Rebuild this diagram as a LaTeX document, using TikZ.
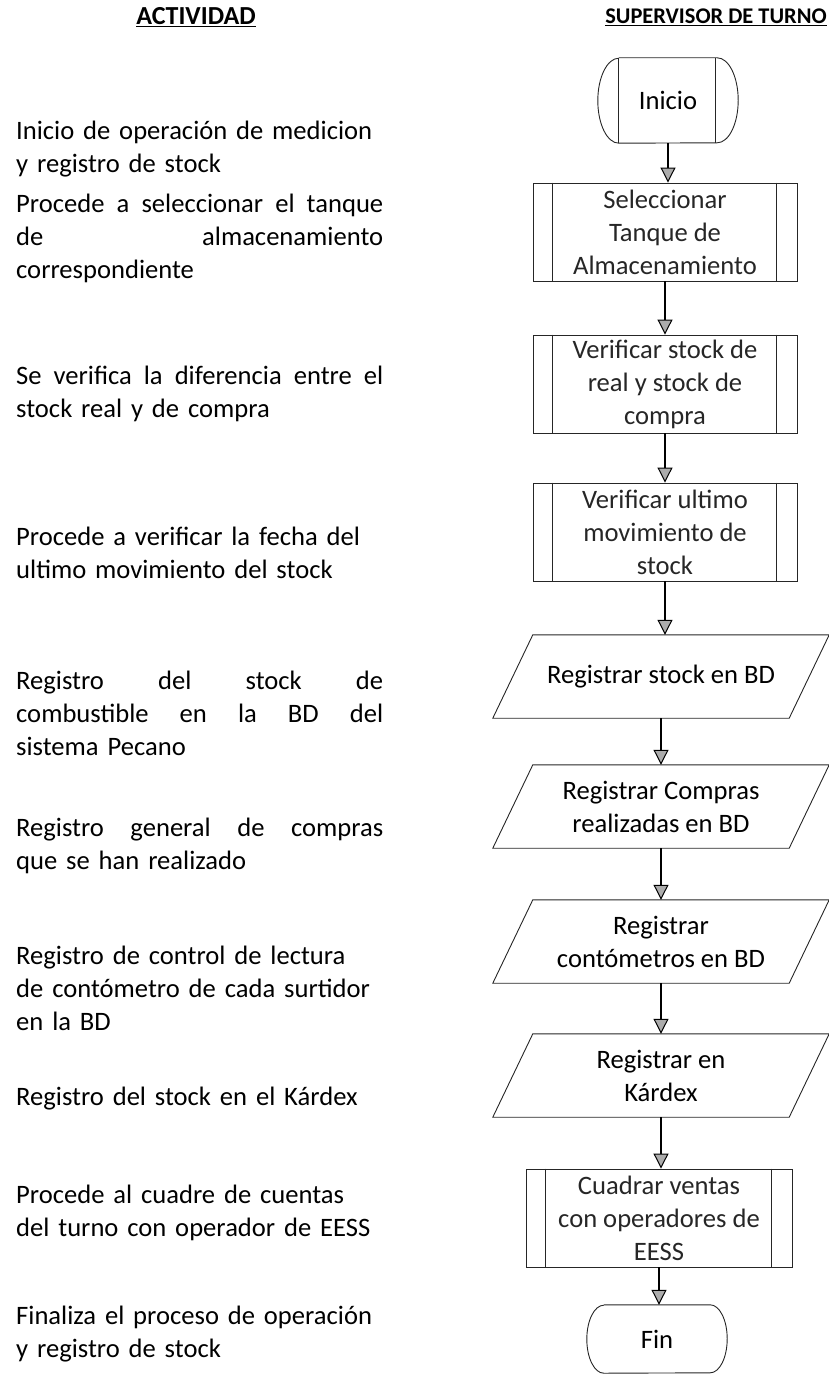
\documentclass[tikz,border=0pt]{standalone}
\usepackage{fontspec}
\setmainfont{Carlito}
\usepackage{tikz}
\usetikzlibrary{arrows.meta}
\newcommand{\letra}{\fontsize{26.6pt}{33pt}\selectfont}
\newcommand{\just}[1]{\leavevmode\hbox to 367pt{\spaceskip=0.23em plus 1fil\relax#1}}

\begin{document}
\begin{tikzpicture}[x=1pt,y=-1pt,
  texto/.style={anchor=west,inner sep=0pt,text width=367pt,align=left,font=\letra},
  titulo/.style={inner sep=0pt,font=\bfseries},
  borde/.style={line width=0.9pt,black!85},
  proceso/.style={draw,borde,minimum width=264pt,minimum height=98pt,inner sep=0pt,align=center,font=\letra},
  datos/.style={minimum width=296pt,minimum height=83pt,inner sep=0pt,align=center,font=\letra},
  terminal/.style={minimum width=140pt,inner sep=0pt,font=\letra},
  flecha/.style={line width=2pt,-{Triangle[width=15pt,length=15pt,line width=1pt,fill=gray!65]}}]
  \useasboundingbox (0,0) rectangle (829,1375); % 画像全体の大きさ
  \node[titulo,font=\fontsize{26pt}{30pt}\selectfont\bfseries] (hact) at (196,17) {\underline{ACTIVIDAD}}; % 左列の見出し
  \node[titulo,font=\fontsize{22.4pt}{28pt}\selectfont\bfseries] (hsup) at (716,17) {\underline{SUPERVISOR DE TURNO}}; % 右列の見出し
  % 左列：各活動の説明
  \node[texto] (t1) at (16,149.5) {Inicio de operación de medicion\\y registro de stock};
  \node[texto] (t2) at (16,238) {\just{Procede a seleccionar el tanque}\\\just{de almacenamiento}\\correspondiente};
  \node[texto] (t3) at (16,394) {\just{Se verifica la diferencia entre el}\\stock real y de compra};
  \node[texto] (t4) at (16,553) {Procede a verificar la fecha del\\ultimo movimiento del stock};
  \node[texto] (t5) at (16,713) {\just{Registro del stock de}\\\just{combustible en la BD del}\\sistema Pecano};
  \node[texto] (t6) at (16,845.5) {\just{Registro general de compras}\\que se han realizado};
  \node[texto] (t7) at (16,988) {Registro de control de lectura\\de contómetro de cada surtidor\\en la BD};
  \node[texto] (t8) at (16,1099) {Registro del stock en el Kárdex};
  \node[texto] (t9) at (16,1212.5) {Procede al cuadre de cuentas\\del turno con operador de EESS};
  \node[texto] (t10) at (16,1334.5) {Finaliza el proceso de operación\\y registro de stock};
  % 右列：流れ図
  \node[terminal,minimum height=85pt] (inicio) at (668,100.5) {Inicio}; % 開始端子
  \draw[borde] ([xshift=21pt]inicio.north west) -- ([xshift=-21pt]inicio.north east) arc[start angle=90,end angle=-90,x radius=21pt,y radius=42.5pt] -- ([xshift=21pt]inicio.south west) arc[start angle=270,end angle=90,x radius=21pt,y radius=42.5pt]; % 開始端子の外形
  \draw[borde] ([xshift=21pt]inicio.north west) -- ([xshift=21pt]inicio.south west); % 開始端子の左の縦線
  \draw[borde] ([xshift=-23pt]inicio.north east) -- ([xshift=-23pt]inicio.south east); % 開始端子の右の縦線
  \node[proceso] (sel) at (665,232) {Seleccionar\\Tanque de\\Almacenamiento};
  \node[proceso] (verif) at (665,384) {Verificar stock de\\real y stock de\\compra};
  \node[proceso] (ultimo) at (665,532) {Verificar ultimo\\movimiento de\\stock};
  \node[datos] (rs) at (661,676.5) {Registrar stock en BD};
  \node[datos] (rc) at (661,806.5) {Registrar Compras\\realizadas en BD};
  \node[datos] (rm) at (661,941.5) {Registrar\\contómetros en BD};
  \node[datos] (rk) at (661,1075.5) {Registrar en\\Kárdex};
  \node[proceso,minimum width=266pt] (cuadrar) at (659,1218) {Cuadrar ventas\\con operadores de\\EESS};
  \node[terminal,minimum height=68pt] (fin) at (657,1339) {Fin}; % 終了端子
  \draw[borde] ([xshift=17pt]fin.north west) -- ([xshift=-17pt]fin.north east) arc[start angle=90,end angle=-90,x radius=17pt,y radius=34pt] -- ([xshift=17pt]fin.south west) arc[start angle=270,end angle=90,x radius=17pt,y radius=34pt]; % 終了端子の外形
  \foreach \n in {sel,verif,ultimo,cuadrar} {
    \draw[borde] ([xshift=20pt]\n.north west) -- ([xshift=20pt]\n.south west); % 定義済み処理の左の縦線
    \draw[borde] ([xshift=-21pt]\n.north east) -- ([xshift=-21pt]\n.south east); % 定義済み処理の右の縦線
  }
  \foreach \n in {rs,rc,rm,rk}
    \draw[borde] ([xshift=20pt]\n.north west) -- ([xshift=20pt]\n.north east) -- ([xshift=-20pt]\n.south east) -- ([xshift=-20pt]\n.south west) -- cycle; % データの平行四辺形
  \foreach \a/\b in {inicio/sel,sel/verif,verif/ultimo,ultimo/rs,rs/rc,rc/rm,rm/rk,rk/cuadrar,cuadrar/fin}
    \draw[flecha] (\a.south) -- (\a.south |- \b.north); % 流れの矢印
\end{tikzpicture}
\end{document}
